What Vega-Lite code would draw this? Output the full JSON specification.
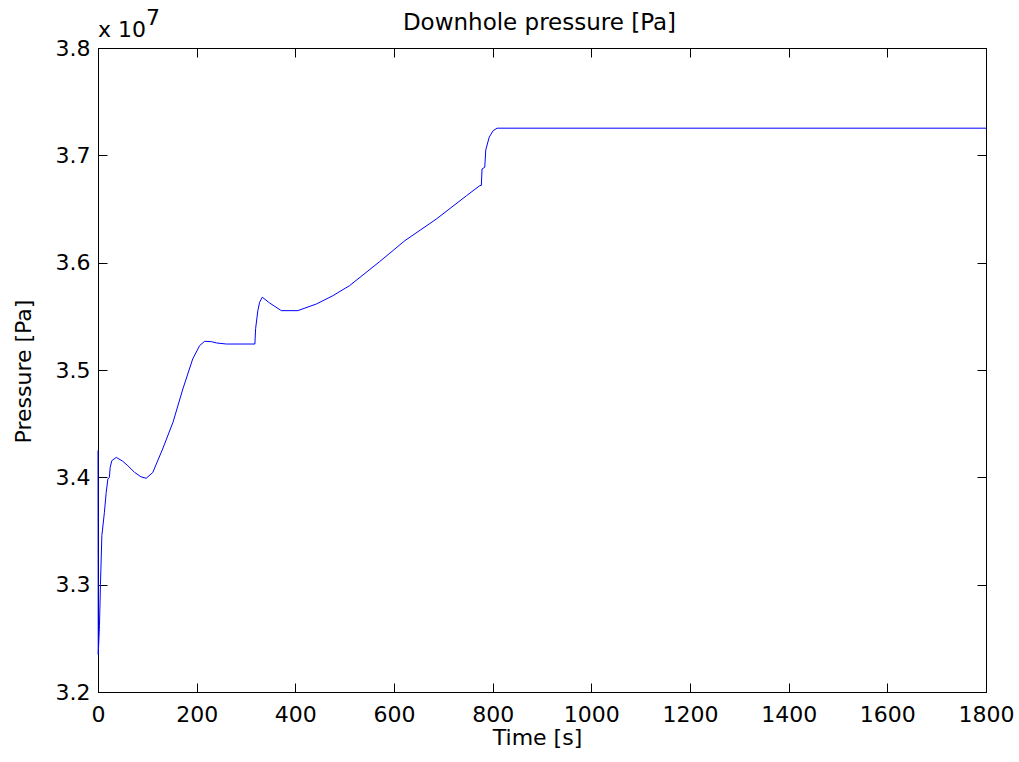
{
  "$schema": "https://vega.github.io/schema/vega-lite/v6.json",
  "autosize": "none",
  "width": 888,
  "height": 644,
  "padding": {"left": 98, "top": 48, "right": 33, "bottom": 70},
  "background": "white",
  "config": {
    "font": "DejaVu Sans",
    "view": {"stroke": "black", "strokeWidth": 1},
    "axis": {
      "labelFont": "DejaVu Sans",
      "labelFontSize": 22,
      "labelColor": "black",
      "titleFont": "DejaVu Sans",
      "titleFontSize": 22,
      "titleFontWeight": "normal",
      "titleColor": "black",
      "domainColor": "black",
      "domainWidth": 1,
      "tickColor": "black",
      "tickWidth": 1,
      "tickSize": -9,
      "grid": false
    }
  },
  "data": {
    "values": [
      {"t": 0, "p": 34250000},
      {"t": 0.5, "p": 32350000},
      {"t": 3, "p": 32620000},
      {"t": 5, "p": 33000000},
      {"t": 7.8, "p": 33456000},
      {"t": 13, "p": 33674000},
      {"t": 16.6, "p": 33860000},
      {"t": 20, "p": 33984000},
      {"t": 23, "p": 34000000},
      {"t": 24.7, "p": 34093000},
      {"t": 28, "p": 34155000},
      {"t": 37, "p": 34186000},
      {"t": 50, "p": 34150000},
      {"t": 60.5, "p": 34108000},
      {"t": 74, "p": 34047000},
      {"t": 87, "p": 34005000},
      {"t": 97.6, "p": 33991000},
      {"t": 111, "p": 34045000},
      {"t": 131, "p": 34264000},
      {"t": 152, "p": 34513000},
      {"t": 172, "p": 34823000},
      {"t": 192, "p": 35103000},
      {"t": 206, "p": 35227000},
      {"t": 216, "p": 35267000},
      {"t": 230, "p": 35264000},
      {"t": 240, "p": 35252000},
      {"t": 260, "p": 35242000},
      {"t": 318, "p": 35242000},
      {"t": 319.5, "p": 35385000},
      {"t": 324, "p": 35553000},
      {"t": 327.6, "p": 35631000},
      {"t": 333, "p": 35678000},
      {"t": 348, "p": 35624000},
      {"t": 371.6, "p": 35553000},
      {"t": 405, "p": 35553000},
      {"t": 442.6, "p": 35615000},
      {"t": 476, "p": 35692000},
      {"t": 510, "p": 35786000},
      {"t": 571, "p": 36010000},
      {"t": 622, "p": 36205000},
      {"t": 686, "p": 36407000},
      {"t": 747, "p": 36624000},
      {"t": 774, "p": 36718000},
      {"t": 777, "p": 36720000},
      {"t": 778.5, "p": 36873000},
      {"t": 784, "p": 36889000},
      {"t": 786, "p": 37050000},
      {"t": 793, "p": 37169000},
      {"t": 801, "p": 37230000},
      {"t": 809, "p": 37253000},
      {"t": 1800, "p": 37253000}
    ]
  },
  "layer": [
    {
      "mark": {"type": "line", "color": "#0000ff", "strokeWidth": 1, "interpolate": "linear"},
      "encoding": {
        "x": {
          "field": "t", "type": "quantitative",
          "scale": {"domain": [0, 1800], "nice": false, "zero": false},
          "axis": {
            "orient": "bottom",
            "values": [0, 200, 400, 600, 800, 1000, 1200, 1400, 1600, 1800],
            "format": "d",
            "labelPadding": 21,
            "labelFlush": false,
            "labelOverlap": false,
            "title": "Time [s]",
            "titleX": 439,
            "titleY": 52,
            "titleBaseline": "alphabetic",
            "titleAlign": "center"
          }
        },
        "y": {
          "field": "p", "type": "quantitative",
          "scale": {"domain": [32000000, 38000000], "nice": false, "zero": false},
          "axis": {
            "orient": "left",
            "values": [32000000, 33000000, 34000000, 35000000, 36000000, 37000000, 38000000],
            "labelExpr": "format(datum.value / 10000000, '.1f')",
            "labelPadding": 17,
            "labelFlush": false,
            "labelOverlap": false,
            "title": "Pressure [Pa]",
            "titleX": -75,
            "titleY": 323,
            "titleAngle": -90,
            "titleBaseline": "middle",
            "titleAlign": "center"
          }
        }
      }
    },
    {
      "mark": {"type": "line", "strokeOpacity": 0},
      "encoding": {
        "x": {
          "field": "t", "type": "quantitative",
          "axis": {
            "orient": "top",
            "values": [0, 200, 400, 600, 800, 1000, 1200, 1400, 1600, 1800],
            "labels": false,
            "title": "Downhole pressure [Pa]",
            "titleFontSize": 23,
            "titleX": 441,
            "titleY": -18.5,
            "titleBaseline": "alphabetic",
            "titleAlign": "center"
          }
        },
        "y": {
          "field": "p", "type": "quantitative",
          "axis": {
            "orient": "right",
            "values": [32000000, 33000000, 34000000, 35000000, 36000000, 37000000, 38000000],
            "labels": false,
            "title": null
          }
        }
      }
    },
    {
      "data": {"values": [{}]},
      "mark": {"type": "text", "text": "x 10", "align": "left", "baseline": "alphabetic", "fontSize": 22, "font": "DejaVu Sans", "color": "black", "dx": 0, "dy": -11.5},
      "encoding": {
        "x": {"datum": 0, "type": "quantitative", "axis": null},
        "y": {"datum": 38000000, "type": "quantitative", "axis": null}
      }
    },
    {
      "data": {"values": [{}]},
      "mark": {"type": "text", "text": "7", "align": "left", "baseline": "alphabetic", "fontSize": 22, "font": "DejaVu Sans", "color": "black", "dx": 48, "dy": -23},
      "encoding": {
        "x": {"datum": 0, "type": "quantitative", "axis": null},
        "y": {"datum": 38000000, "type": "quantitative", "axis": null}
      }
    }
  ],
  "resolve": {"axis": {"x": "independent", "y": "independent"}}
}
